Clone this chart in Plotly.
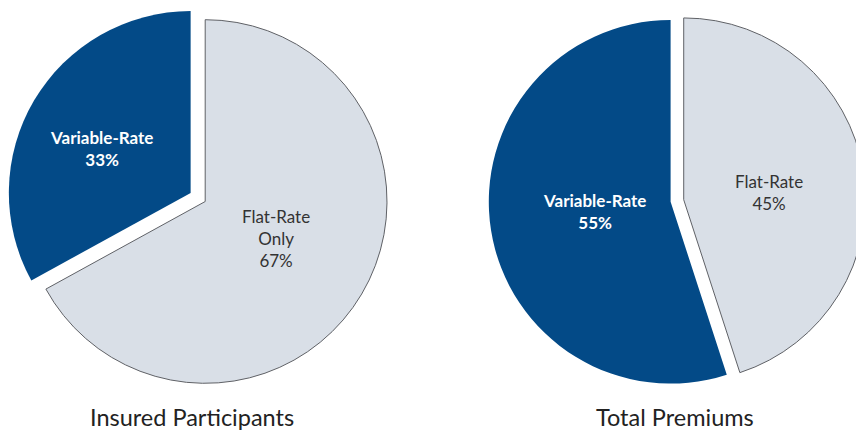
import plotly.graph_objects as go

# ---- data ----
left_labels = ["Flat-Rate Only", "Variable-Rate"]
left_values = [67, 33]
left_pull = [0, 0.093]

right_labels = ["Flat-Rate", "Variable-Rate"]
right_values = [45, 55]
right_pull = [0.073, 0]

titles = ["Insured Participants", "Total Premiums"]

DARK = "#034A87"
LIGHT = "#D9DFE7"
EDGE = "#5F6166"
FONT = "Lato"

W, H = 866, 436

def px_domain(cx, cy, half):
    return dict(x=[(cx - half) / W, (cx + half) / W],
                y=[1 - (cy + half) / H, 1 - (cy - half) / H])

fig = go.Figure()

r = 181.8
fig.add_trace(go.Pie(
    labels=left_labels, values=left_values, pull=left_pull,
    sort=False, direction="clockwise", rotation=0,
    marker=dict(colors=[LIGHT, DARK], line=dict(color=[EDGE, DARK], width=[1, 0])),
    textinfo="none", hoverinfo="label+percent", showlegend=False,
    domain=px_domain(205.2, 201.5, r * (1 + max(left_pull))),
))
fig.add_trace(go.Pie(
    labels=right_labels, values=right_values, pull=right_pull,
    sort=False, direction="clockwise", rotation=0,
    marker=dict(colors=[LIGHT, DARK], line=dict(color=[EDGE, DARK], width=[1, 0])),
    textinfo="none", hoverinfo="label+percent", showlegend=False,
    domain=px_domain(670.6, 201.8, r * (1 + max(right_pull))),
))

def ann(x, y, text, color, size, bold=False):
    if bold:
        text = "<br>".join(f"<b>{t}</b>" for t in text.split("<br>"))
    fig.add_annotation(x=x / W, y=1 - y / H, xref="paper", yref="paper",
                       text=text, showarrow=False, xanchor="center", yanchor="middle",
                       font=dict(family=FONT, size=size, color=color))

# slice labels
ann(101.5, 148.5, f"{left_labels[1]}<br>{left_values[1]}%", "white", 17, bold=True)
ann(275.5, 238.5, "Flat-Rate<br>Only<br>" + f"{left_values[0]}%", "#333333", 17)
ann(594, 211, f"{right_labels[1]}<br>{right_values[1]}%", "white", 17, bold=True)
ann(768.5, 192.5, f"{right_labels[0]}<br>{right_values[0]}%", "#333333", 17)

# titles
ann(192, 417, titles[0], "#222222", 23.5)
ann(675, 417, titles[1], "#222222", 23.5)

fig.update_layout(width=W, height=H, autosize=False,
                  margin=dict(l=0, r=0, t=0, b=0),
                  paper_bgcolor="white", plot_bgcolor="white")

fig.write_html("out.html", config={"displayModeBar": False},
               post_script="document.body.style.margin='0';document.body.style.overflow='hidden';")
